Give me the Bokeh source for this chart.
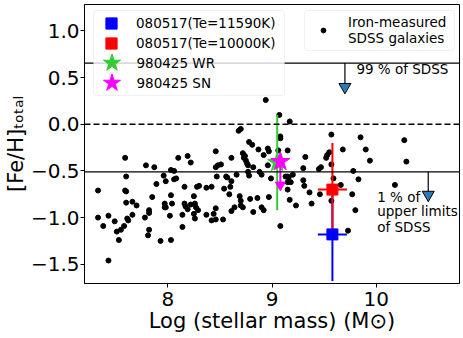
from bokeh.plotting import figure
from bokeh.models import (Range1d, FixedTicker, CustomJSTickFormatter, Label, Span,
                          Legend, LegendItem, BoxAnnotation, ColumnDataSource)
from bokeh.embed import file_html
from bokeh.resources import INLINE

# ---------------- data ----------------
sdss_logm = [7.33, 7.33, 7.38, 7.43, 7.43, 7.49, 7.51, 7.53, 7.55, 7.58,
             7.59, 7.60, 7.59, 7.60, 7.60, 7.61, 7.62, 7.66, 7.66, 7.70,
             7.79, 7.78, 7.81, 7.82, 7.82, 7.82, 7.85, 7.87, 7.89, 7.93,
             7.96, 7.97, 7.97, 7.98, 7.98, 8.02, 8.03, 8.03, 8.03, 8.06,
             8.04, 8.06, 8.08, 8.10, 8.14, 8.14, 8.16, 8.16, 8.19, 8.22,
             8.25, 8.17, 8.19, 8.22, 8.26, 8.27, 8.29, 8.25, 8.26, 8.28,
             8.30, 8.37, 8.37, 8.42, 8.42, 8.44, 8.46, 8.46, 8.46, 8.46,
             8.48, 8.51, 8.47, 8.53, 8.54, 8.56, 8.57, 8.59, 8.60, 8.61,
             8.61, 8.61, 8.64, 8.66, 8.68, 8.70, 8.69, 8.70, 8.70, 8.72,
             8.72, 8.74, 8.73, 8.75, 8.76, 8.77, 8.77, 8.78, 8.78, 8.81,
             8.79, 8.82, 8.82, 8.86, 8.87, 8.88, 8.90, 8.90, 8.92, 8.92,
             8.94, 8.96, 8.97, 8.96, 8.97, 8.99, 9.07, 9.17, 9.08, 9.08,
             9.06, 9.15, 9.32, 9.30, 9.47, 9.45, 9.53, 9.52, 9.55, 9.57,
             9.57, 9.68, 9.85, 9.90, 9.94, 9.78, 9.20, 9.13, 9.15, 9.16,
             9.18, 9.15, 9.30, 9.31, 9.36, 9.46, 9.59, 9.66, 9.83, 9.77,
             9.15, 9.17, 9.23, 9.38, 9.57, 9.80, 9.08, 9.73, 10.27, 10.29,
             10.18]
sdss_feh = [-0.71, -1.00, -1.09, -0.98, -1.46, -1.04, -1.15, -1.24, -1.13, -1.09,
            -0.36, -0.56, -0.71, -0.72, -0.84, -1.01, -1.03, -0.83, -0.97, -0.87,
            -0.44, -1.00, -1.19, -0.92, -0.95, -1.13, -0.78, -0.46, -0.64, -1.25,
            -0.55, -0.85, -0.89, -0.89, -0.61, -0.98, -1.24, -0.76, -0.49, -0.50,
            -0.85, -0.59, -0.58, -0.36, -0.97, -1.10, -0.67, -0.85, -0.34, -0.41,
            -0.77, -0.88, -0.91, -0.86, -0.85, -0.89, -0.92, -0.96, -1.01, -0.67,
            -0.66, -0.68, -0.97, -0.67, -1.03, -0.96, -1.02, -0.90, -0.29, -0.46,
            -0.44, -0.43, -0.56, -1.02, -0.69, -0.56, -0.57, -0.75, -0.67, -0.61,
            -0.36, -0.93, -0.89, -0.54, -0.07, -0.05, -0.77, -0.82, -0.87, -0.89,
            -0.31, -0.34, -0.36, -0.39, -0.42, -0.44, -0.51, -0.55, -0.19, -0.22,
            -0.80, -0.46, -0.94, -0.79, -0.27, -0.51, -0.54, -0.89, -0.92, -0.33,
            0.26, -0.26, -0.29, -0.44, -0.78, -0.58, 0.10, 0.03, -0.13, -0.15,
            -0.28, -0.28, -0.35, -0.47, -0.46, -0.48, -0.33, -0.36, -0.30, -0.11,
            -0.43, -0.27, -0.14, -0.27, -0.39, -0.50, -0.54, -0.56, -0.56, -0.57,
            -0.62, -0.62, -0.60, -0.66, -0.73, -0.75, -0.58, -0.65, -0.59, -0.75,
            -0.70, -0.81, -0.87, -0.85, -0.82, -0.92, -1.09, -1.14, -0.17, -0.40,
            -0.65]

# GRB 080517 host (two electron temperatures)
g080517_labels = ["080517(Te=11590K)", "080517(Te=10000K)"]
g080517_colors = ["#0000ff", "#ff0000"]
g080517_logm = [9.58, 9.58]
g080517_logm_err = [0.14, 0.14]
g080517_feh = [-1.18, -0.70]
g080517_feh_err = [0.50, 0.50]

# GRB 980425 host
g980425_wr_logm = [9.05]
g980425_wr_feh = [-0.41]
g980425_wr_err = [0.51]
g980425_sn_logm = [9.08]
g980425_sn_feh = [-0.40]
g980425_sn_lim = [-0.65]   # upper-limit arrow end

# SDSS reference levels
level_solid = [0.655, -0.51]
level_dashed = [0.0]
arrow_logm = [9.70, 10.50]
arrow_tip = [0.40, -0.755]

xticks = [8, 9, 10]
yticks = [-1.5, -1.0, -0.5, 0.0, 0.5, 1.0]

FONT = "DejaVu Sans"

# ---------------- figure ----------------
p = figure(width=463, height=338, output_backend="svg", toolbar_location=None,
           x_range=Range1d(7.2, 10.8), y_range=Range1d(-1.706, 1.283),
           min_border_left=83, min_border_right=4, min_border_top=4,
           min_border_bottom=55)
p.grid.visible = False
p.outline_line_color = "black"
p.outline_line_width = 1
p.background_fill_color = "white"
p.border_fill_color = "white"

for ax in (p.xaxis[0], p.yaxis[0]):
    ax.axis_line_color = "black"
    ax.major_tick_line_color = "black"
    ax.major_tick_out = 4
    ax.major_tick_in = 0
    ax.minor_tick_line_color = None
    ax.major_label_text_font = FONT
    ax.major_label_text_font_size = "20px"
    ax.major_label_text_color = "black"
    ax.axis_label_text_font = FONT
    ax.axis_label_text_font_style = "normal"
    ax.axis_label_text_color = "black"
p.xaxis.ticker = FixedTicker(ticks=xticks)
p.yaxis.ticker = FixedTicker(ticks=yticks)
p.xaxis.major_label_standoff = 4
p.yaxis.major_label_standoff = 1
p.xaxis.axis_label = "Log (stellar mass) (M\u2299)"
p.xaxis.axis_label_text_font_size = "21px"
p.xaxis.axis_label_standoff = 0
p.yaxis.axis_label = "[Fe/H]\u209c\u2092\u209c\u2090\u2097"
p.yaxis.axis_label_text_font_size = "21px"
p.yaxis.axis_label_standoff = 0
p.xaxis.formatter = CustomJSTickFormatter(code="return tick.toFixed(0);")
p.yaxis.formatter = CustomJSTickFormatter(code="return tick.toFixed(1).replace('-', '\u2212');")

# reference lines
for lv in level_solid:
    p.add_layout(Span(location=lv, dimension="width", line_color="black", line_width=1.2))
for lv in level_dashed:
    p.add_layout(Span(location=lv, dimension="width", line_color="black", line_width=1.5,
                      line_dash="6 3"))

# SDSS galaxies
r_sdss = p.scatter(sdss_logm, sdss_feh, size=5, color="black")

# arrows for SDSS levels
p.segment(x0=arrow_logm, y0=level_solid, x1=arrow_logm, y1=arrow_tip, line_color="black", line_width=1.2)
p.scatter(arrow_logm, arrow_tip, marker="inverted_triangle", size=12,
          fill_color="#2b7bb9", line_color="black", line_width=1)

# 080517 error bars
src = ColumnDataSource(dict(
    x=g080517_logm, y=g080517_feh,
    ylo=[y - e for y, e in zip(g080517_feh, g080517_feh_err)],
    yhi=[y + e for y, e in zip(g080517_feh, g080517_feh_err)],
    xlo=[x - e for x, e in zip(g080517_logm, g080517_logm_err)],
    xhi=[x + e for x, e in zip(g080517_logm, g080517_logm_err)],
    color=g080517_colors))
p.segment(x0="x", y0="ylo", x1="x", y1="yhi", line_color="color", line_width=2, source=src)
p.segment(x0="xlo", y0="y", x1="xhi", y1="y", line_color="color", line_width=2, source=src)
r_sq = []
for i in range(2):
    r_sq.append(p.scatter([g080517_logm[i]], [g080517_feh[i]], marker="square", size=11,
                          color=g080517_colors[i]))

# 980425 WR
p.segment(x0=g980425_wr_logm, x1=g980425_wr_logm,
          y0=[y - e for y, e in zip(g980425_wr_feh, g980425_wr_err)],
          y1=[y + e for y, e in zip(g980425_wr_feh, g980425_wr_err)],
          line_color="#33cc33", line_width=2)
r_wr = p.scatter(g980425_wr_logm, g980425_wr_feh, marker="star", size=20, color="#33cc33")
# 980425 SN (upper limit)
p.segment(x0=g980425_sn_logm, x1=g980425_sn_logm, y0=g980425_sn_feh, y1=g980425_sn_lim,
          line_color="#ff00ff", line_width=2)
p.scatter(g980425_sn_logm, g980425_sn_lim, marker="inverted_triangle", size=10, color="#ff00ff")
r_sn = p.scatter(g980425_sn_logm, g980425_sn_feh, marker="star", size=20, color="#ff00ff")

# text annotations
tstyle = dict(text_font=FONT, text_font_size="13.5px", text_color="black")
p.add_layout(Label(x=9.81, y=0.51, text="99 % of SDSS", **tstyle))
for txt, yy in zip(["1 % of", "upper limits", "of SDSS"], [-0.87, -1.01, -1.19]):
    p.add_layout(Label(x=10.01, y=yy, text=txt, **tstyle))

# legend boxes (frame-relative pixels)
p.add_layout(BoxAnnotation(left=9, right=200, top=273, bottom=188,
                           left_units="screen", right_units="screen",
                           top_units="screen", bottom_units="screen",
                           fill_color="white", fill_alpha=0.8,
                           line_color="#cccccc", line_width=1, border_radius=3))
p.add_layout(BoxAnnotation(left=220, right=370, top=273, bottom=233,
                           left_units="screen", right_units="screen",
                           top_units="screen", bottom_units="screen",
                           fill_color="white", fill_alpha=0.8,
                           line_color="#cccccc", line_width=1, border_radius=3))

lstyle = dict(border_line_color=None, background_fill_alpha=0, padding=0, margin=0,
              label_text_font=FONT, label_text_font_size="13.5px", label_text_color="black")
legend_rows = [
    (g080517_labels[0], r_sq[0], 260.3, 28, 11),
    (g080517_labels[1], r_sq[1], 240.3, 28, 11),
    ("980425 WR", r_wr, 220.3, 45, 3),
    ("980425 SN", r_sn, 200.3, 45, 3),
]
for lab, rend, cy, g, so in legend_rows:
    p.add_layout(Legend(items=[LegendItem(label=lab, renderers=[rend])],
                        location=(27 - g / 2, cy - g / 2), glyph_width=g, glyph_height=g,
                        label_standoff=so, **lstyle))
p.add_layout(Legend(items=[LegendItem(label="Iron-measured\nSDSS galaxies", renderers=[r_sdss])],
                    location=(233, 237), glyph_width=12, glyph_height=12,
                    label_standoff=19, **lstyle))

open("out.html", "w").write(file_html(p, INLINE))
